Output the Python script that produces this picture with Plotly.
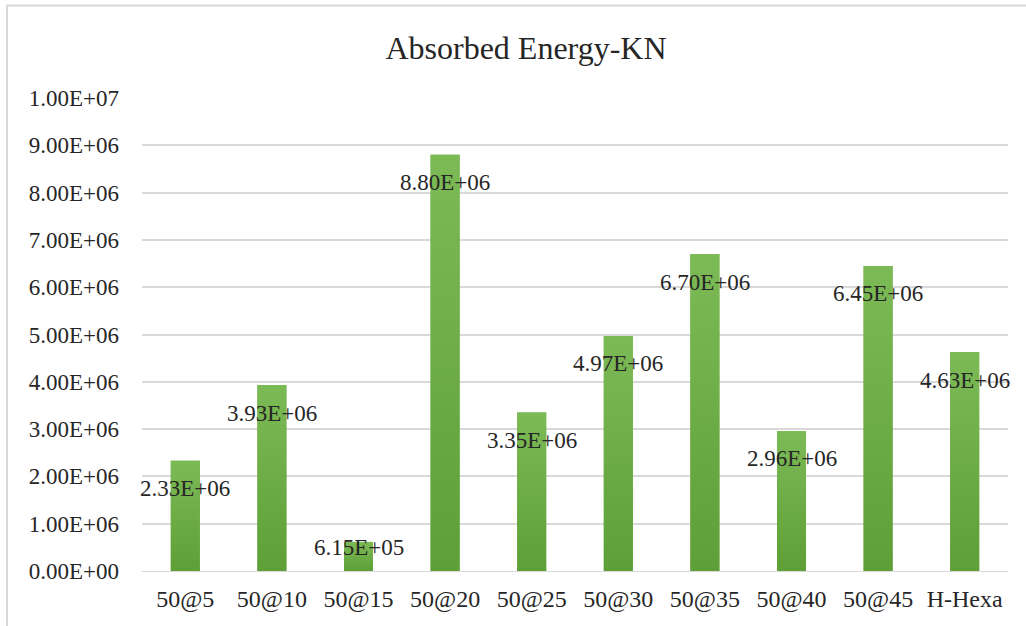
import plotly.graph_objects as go

# Absorbed energy per model
categories = ["50@5", "50@10", "50@15", "50@20", "50@25",
              "50@30", "50@35", "50@40", "50@45", "H-Hexa"]
absorbed_energy = [2.33e6, 3.93e6, 6.15e5, 8.80e6, 3.35e6,
                   4.97e6, 6.70e6, 2.96e6, 6.45e6, 4.63e6]

# Y-axis ticks
y_tick_values = [0, 1e6, 2e6, 3e6, 4e6, 5e6, 6e6, 7e6, 8e6, 9e6, 1e7]
y_tick_labels = ["0.00E+00", "1.00E+06", "2.00E+06", "3.00E+06", "4.00E+06",
                 "5.00E+06", "6.00E+06", "7.00E+06", "8.00E+06", "9.00E+06",
                 "1.00E+07"]

W, H = 1026, 626
M_L, M_R, M_T, M_B = 142, 18, 98, 55
Y_MAX = 1e7
BAR_W = 0.335
plot_h = H - M_T - M_B

FONT = "Liberation Serif, Times New Roman, serif"
TEXT = "#262626"
GREEN_TOP = "#7cba55"
GREEN_BOTTOM = "#5e9f37"

positions = list(range(len(categories)))

fig = go.Figure()
fig.add_trace(go.Bar(
    x=positions,
    y=absorbed_energy,
    customdata=categories,
    marker=dict(color="#6aa841", line=dict(width=0)),
    width=BAR_W,
    hovertemplate="%{customdata}: %{y:.2E}<extra></extra>",
))

# Vertical gradient fill over each bar, light at the top, darker at the base
for x, v in zip(positions, absorbed_energy):
    x0, x1 = x - BAR_W / 2, x + BAR_W / 2
    fig.add_trace(go.Scatter(
        x=[x0, x1, x1, x0, x0],
        y=[0, 0, v, v, 0],
        mode="lines",
        line=dict(width=0),
        fill="toself",
        fillgradient=dict(
            type="vertical",
            colorscale=[[0, GREEN_BOTTOM], [1, GREEN_TOP]],
        ),
        hoverinfo="skip",
    ))

# Value labels sit just inside the top of each bar
annotations = []
for x, v in zip(positions, absorbed_energy):
    bar_px = v / Y_MAX * plot_h
    shift = -28 if bar_px > 56 else -(bar_px - 23)
    annotations.append(dict(
        x=x, y=v, xref="x", yref="y",
        text=f"{v:.2E}", showarrow=False,
        yanchor="middle", xanchor="center", yshift=shift,
        font=dict(family=FONT, size=23, color=TEXT),
    ))

fig.update_layout(
    width=W, height=H,
    margin=dict(l=M_L, r=M_R, t=M_T, b=M_B, autoexpand=False),
    paper_bgcolor="white",
    plot_bgcolor="white",
    showlegend=False,
    title=dict(
        text="Absorbed Energy-KN",
        x=526 / W, xanchor="center", xref="container",
        y=1 - 48 / H, yanchor="middle", yref="container",
        font=dict(family=FONT, size=32, color=TEXT),
        automargin=False,
    ),
    annotations=annotations,
    shapes=[dict(
        type="rect", xref="paper", yref="paper",
        x0=(7 - M_L) / (W - M_L - M_R), x1=1.2,
        y0=-0.3, y1=(H - M_B - 5.5) / plot_h,
        line=dict(color="#d9d9d9", width=2),
        fillcolor="rgba(0,0,0,0)", layer="below",
    )],
)

fig.update_xaxes(
    range=[-0.5, len(categories) - 0.5],
    tickvals=positions, ticktext=categories,
    showgrid=False, zeroline=False, automargin=False,
    showline=True, linecolor="#d9d9d9", linewidth=1,
    ticks="", ticklabelstandoff=6,
    tickfont=dict(family=FONT, size=24, color=TEXT),
)
fig.update_yaxes(
    range=[0, Y_MAX],
    tickvals=y_tick_values, ticktext=y_tick_labels,
    showgrid=True, gridcolor="#d9d9d9", gridwidth=1.5,
    zeroline=False, showline=False, automargin=False,
    ticks="", ticklabelstandoff=22,
    tickfont=dict(family=FONT, size=23, color=TEXT),
)

fig.write_html("out.html")
